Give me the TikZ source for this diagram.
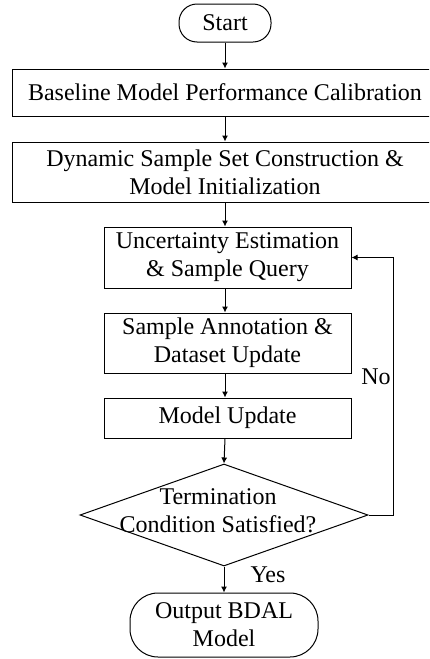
\documentclass[tikz,border=0pt]{standalone}
\usepackage{fontspec}
\setmainfont{Liberation Serif}
\usetikzlibrary{arrows.meta,shapes.geometric}

\begin{document}
\begin{tikzpicture}[x=1pt,y=-1pt,
    every node/.style={font=\fontsize{24}{28}\selectfont,align=center,inner sep=0pt},
    proc/.style={rectangle,draw,line width=1pt},
    term/.style={rectangle,draw,line width=1pt,rounded corners=18pt},
    decision/.style={diamond,draw,line width=1pt},
    flow/.style={line width=1pt,-{Latex[length=6pt,width=6pt]}}]
    \clip (0,0) rectangle (429,659);

    \node (start) [term,minimum width=92,minimum height=38] at (225,23) {Start};
    \node (base) [proc,minimum width=426,minimum height=47] at (225,92.5) {Baseline Model Performance Calibration};
    \node (dyn) [proc,minimum width=426,minimum height=60] at (225,172) {Dynamic Sample Set Construction \&\\Model Initialization};
    \node (unc) [proc,minimum width=247,minimum height=61] at (227.5,257.5) {Uncertainty Estimation\\\& Sample Query};
    \node (ann) [proc,minimum width=247,minimum height=60] at (227.5,343) {Sample Annotation \&\\Dataset Update};
    \node (upd) [proc,minimum width=247,minimum height=40] at (227.5,418) {Model Update};
    \node (dec) [decision,minimum width=288,minimum height=102] at (224,515) {};
    \node (dectext) at (218,511) {Termination\\Condition Satisfied?};
    \node (out) [term,rounded corners=28pt,minimum width=188,minimum height=64] at (224,625) {Output BDAL\\Model};

    \coordinate (loop) at (393,515);

  \draw[flow] (start) -- (base);
  \draw[flow] (base) -- (dyn);
  \draw[flow] (dyn) -- (dyn |- unc.north);
  \draw[flow] (dyn |- unc.south) -- (dyn |- ann.north);
  \draw[flow] (dyn |- ann.south) -- (dyn |- upd.north);
  \draw[flow] (dyn |- upd.south) -- (dec.north);
  \draw[flow] (dec) -- (out);

  \draw[flow] (dec.east) -- (loop) -- (loop |- unc) -- (unc.east);

  \node (no) at (376,377) {No};
  \node (yes) at (268,575) {Yes};
\end{tikzpicture}
\end{document}
